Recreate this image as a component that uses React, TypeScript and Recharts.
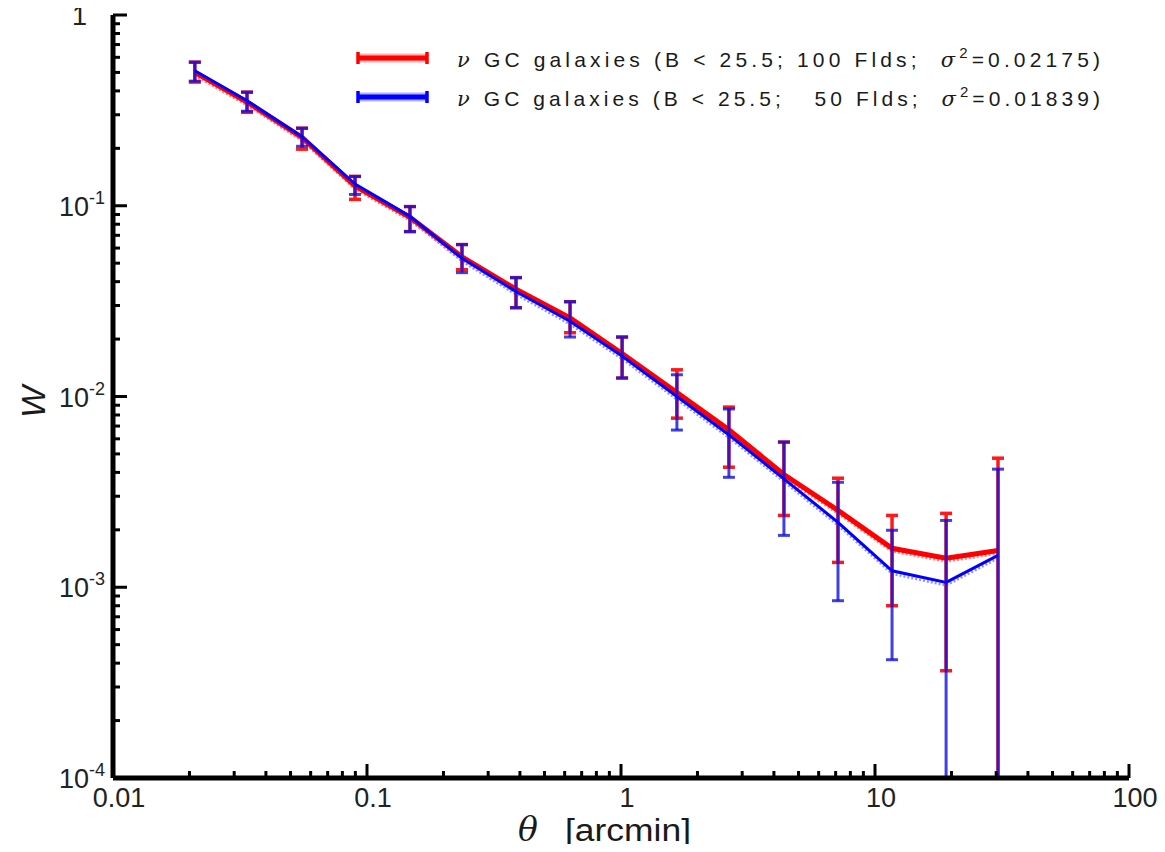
import React from "react";
import { ErrorBar, Line, LineChart, XAxis, YAxis } from "recharts";

// angular bins (arcmin)
const theta = [0.021, 0.0337, 0.0555, 0.0897, 0.1476, 0.2366, 0.386, 0.63, 1.01, 1.66, 2.66, 4.38, 7.15, 11.67, 19.05, 30.5];

// 100 fields
const redW = [0.5, 0.35, 0.228, 0.127, 0.087, 0.054, 0.0365, 0.0258, 0.0168, 0.0105, 0.0067, 0.0039, 0.00253, 0.0016, 0.00142, 0.00156];
const redHi = [0.566, 0.394, 0.255, 0.1425, 0.099, 0.0626, 0.042, 0.0314, 0.0205, 0.0138, 0.0088, 0.00577, 0.00373, 0.00238, 0.00244, 0.00475];
const redLo = [0.445, 0.309, 0.198, 0.108, 0.0732, 0.0462, 0.0292, 0.0216, 0.0125, 0.0077, 0.00426, 0.00238, 0.00135, 0.0008, 0.000365, 0.0001];

// 50 fields
const blueW = [0.51, 0.355, 0.23, 0.13, 0.088, 0.053, 0.0355, 0.0248, 0.0163, 0.01, 0.0063, 0.0037, 0.00219, 0.00122, 0.00106, 0.00147];
const blueHi = [0.566, 0.394, 0.255, 0.1425, 0.099, 0.0626, 0.042, 0.0314, 0.0205, 0.013, 0.0086, 0.00577, 0.00355, 0.00199, 0.00224, 0.00416];
const blueLo = [0.45, 0.313, 0.205, 0.1146, 0.0732, 0.0446, 0.0292, 0.0205, 0.0125, 0.00667, 0.00377, 0.00187, 0.00085, 0.000417, 0.0001, 0.0001];

const xMajor = [0.01, 0.1, 1, 10, 100];
const xTickLabels = ["0.01", "0.1", "1", "10", "100"];
const yMajor = [1e-4, 1e-3, 1e-2, 1e-1, 1];
const yTickLabels = ["10^-4", "10^-3", "10^-2", "10^-1", "1"];

const legendFields = ["100", "  50"];
const legendSigma = ["0.02175", "0.01839"];
const legendColors = ["#ff0000", "#0000ff"];

const rows = theta.map((t, i) => ({
  theta: t,
  red: redW[i],
  redErr: [redW[i] - redLo[i], redHi[i] - redW[i]],
  blue: blueW[i],
  blueErr: [blueW[i] - blueLo[i], blueHi[i] - blueW[i]],
}));

// minor ticks 1..9 in each decade
const withMinor = (major: number[]) => {
  const out: number[] = [];
  major.forEach((m, i) => {
    if (i === major.length - 1) out.push(m);
    else for (let k = 1; k < 10; k++) out.push(+(m * k).toPrecision(3));
  });
  return out;
};
const xTicks = withMinor(xMajor);
const yTicks = withMinor(yMajor);

const majorIdx = (list: number[], v: number) =>
  list.findIndex((m) => Math.abs(m - v) / m < 1e-6);

const FONT = "'Liberation Sans', Arial, Helvetica, sans-serif";
const SERIF = "'DejaVu Serif', 'Liberation Serif', serif";
const W = 1149;
const H = 836;

const BottomTick = (props: any) => {
  const { x, y, payload } = props;
  const i = majorIdx(xMajor, payload.value);
  return (
    <g>
      <line x1={x} y1={y} x2={x} y2={y - (i >= 0 ? 14 : 7)} stroke="#000" strokeWidth={3} />
      {i >= 0 && (
        <text x={x + 6} y={y + 29} textAnchor="middle" fontSize={27} fontFamily={FONT} fill="#222">
          {xTickLabels[i]}
        </text>
      )}
    </g>
  );
};

const TopTick = (props: any) => {
  const { x, y, payload } = props;
  const i = majorIdx(xMajor, payload.value);
  return <line x1={x} y1={y} x2={x} y2={y + (i >= 0 ? 12 : 6)} stroke="#000" strokeWidth={2.5} />;
};

const LeftTick = (props: any) => {
  const { x, y, payload } = props;
  const i = majorIdx(yMajor, payload.value);
  let label = null;
  if (i >= 0) {
    const [base, exp] = yTickLabels[i].split("^");
    label = exp ? (
      <text x={x - 8} y={y + 10} textAnchor="end" fontSize={27} fontFamily={FONT} fill="#222">
        {base}
        <tspan fontSize={18} dy={-12}>{exp}</tspan>
      </text>
    ) : (
      <text x={x - 26} y={y + 10} textAnchor="end" fontSize={27} fontFamily={FONT} fill="#222">
        {base}
      </text>
    );
  }
  return (
    <g>
      <line x1={x} y1={y} x2={x + (i >= 0 ? 14 : 7)} y2={y} stroke="#000" strokeWidth={3} />
      {label}
    </g>
  );
};

const RightTick = (props: any) => {
  const { x, y, payload } = props;
  const i = majorIdx(yMajor, payload.value);
  return <line x1={x} y1={y} x2={x - (i >= 0 ? 12 : 6)} y2={y} stroke="#000" strokeWidth={2.5} />;
};

const Overlay = () => (
  <svg width={W} height={H} style={{ position: "absolute", left: 0, top: 0, pointerEvents: "none", overflow: "visible" }}>
    {legendFields.map((f, i) => {
      const ly = 50 + i * 39;
      const c = legendColors[i];
      return (
        <g key={i}>
          <line x1={350} y1={ly} x2={419} y2={ly} stroke={c} strokeOpacity={0.3} strokeWidth={9} />
          <line x1={350} y1={ly} x2={419} y2={ly} stroke={c} strokeWidth={5} />
          <line x1={350} y1={ly - 6} x2={350} y2={ly + 6} stroke={c} strokeWidth={3.5} />
          <line x1={419} y1={ly - 6} x2={419} y2={ly + 6} stroke={c} strokeWidth={3.5} />
          <text
            x={449}
            y={ly + 9}
            fontSize={21}
            fontFamily={FONT}
            fill="#1a1a1a"
            textLength={643}
            lengthAdjust="spacing"
            style={{ whiteSpace: "pre" }}
          >
            <tspan fontStyle="italic" fontFamily={SERIF}>ν</tspan>
            {` GC galaxies (B < 25.5; ${f} Flds;  `}
            <tspan fontStyle="italic" fontFamily={SERIF}>σ</tspan>
            <tspan fontSize={15} dy={-9}>2</tspan>
            <tspan dy={9}>{`=${legendSigma[i]})`}</tspan>
          </text>
        </g>
      );
    })}
    <text x={510} y={833} fontSize={33} fontFamily={SERIF} fontStyle="italic" fill="#1a1a1a">
      θ
    </text>
    <text x={557} y={833} fontSize={31} fontFamily={FONT} fill="#1a1a1a" textLength={126} lengthAdjust="spacingAndGlyphs">
      [arcmin]
    </text>
    <text
      transform="translate(37, 394) rotate(-90)"
      textAnchor="middle"
      fontSize={34}
      fontFamily={FONT}
      fontStyle="italic"
      fill="#1a1a1a"
    >
      W
    </text>
  </svg>
);

export default function App() {
  return (
    <div style={{ position: "relative", width: W, height: H, background: "#fff" }}>
      <style>{`
        .recharts-surface { overflow: visible; }
        .shadow-line { transform: translate(0px, 3px); }
      `}</style>
      <LineChart width={W} height={H} data={rows} margin={{ top: 7, right: 28, bottom: 0, left: 0 }}>
        <XAxis
          xAxisId="b"
          dataKey="theta"
          type="number"
          scale="log"
          domain={[0.01, 100]}
          ticks={xTicks}
          interval={0}
          allowDataOverflow
          height={66}
          tickSize={0}
          tickMargin={0}
          tickLine={false}
          tick={<BottomTick />}
          axisLine={{ stroke: "#000", strokeWidth: 5 }}
        />
        <XAxis
          xAxisId="t"
          orientation="top"
          dataKey="theta"
          type="number"
          scale="log"
          domain={[0.01, 100]}
          ticks={xTicks}
          interval={0}
          allowDataOverflow
          height={0}
          tickSize={0}
          tickMargin={0}
          tickLine={false}
          tick={<TopTick />}
          axisLine={{ stroke: "#000", strokeWidth: 2.5 }}
        />
        <YAxis
          yAxisId="l"
          type="number"
          scale="log"
          domain={[1e-4, 1]}
          ticks={yTicks}
          interval={0}
          allowDataOverflow
          width={105}
          tickSize={0}
          tickMargin={0}
          tickLine={false}
          tick={<LeftTick />}
          axisLine={{ stroke: "#000", strokeWidth: 5 }}
        />
        <YAxis
          yAxisId="r"
          orientation="right"
          type="number"
          scale="log"
          domain={[1e-4, 1]}
          ticks={yTicks}
          interval={0}
          allowDataOverflow
          width={0}
          tickSize={0}
          tickMargin={0}
          tickLine={false}
          tick={<RightTick />}
          axisLine={{ stroke: "#000", strokeWidth: 3 }}
        />
        {/* faint dotted shadow copies */}
        <Line
          xAxisId="b"
          yAxisId="l"
          dataKey="red"
          className="shadow-line"
          stroke="#ff8080"
          strokeWidth={3}
          strokeDasharray="2 2"
          dot={false}
          isAnimationActive={false}
        />
        <Line
          xAxisId="b"
          yAxisId="l"
          dataKey="blue"
          className="shadow-line"
          stroke="#9090ff"
          strokeWidth={2.5}
          strokeDasharray="2 2"
          dot={false}
          isAnimationActive={false}
        />
        <Line
          xAxisId="b"
          yAxisId="l"
          dataKey="red"
          stroke="#ff0000"
          strokeWidth={5}
          dot={false}
          isAnimationActive={false}
        >
          <ErrorBar dataKey="redErr" direction="y" width={6} stroke="#ff1a1a" strokeWidth={3.5} isAnimationActive={false} />
        </Line>
        <Line
          xAxisId="b"
          yAxisId="l"
          dataKey="blue"
          stroke="#0000ff"
          strokeWidth={3}
          dot={false}
          isAnimationActive={false}
        >
          <ErrorBar
            dataKey="blueErr"
            direction="y"
            width={6}
            stroke="#1010e0"
            strokeOpacity={0.8}
            strokeWidth={3}
            isAnimationActive={false}
          />
        </Line>
      </LineChart>
      <Overlay />
    </div>
  );
}
